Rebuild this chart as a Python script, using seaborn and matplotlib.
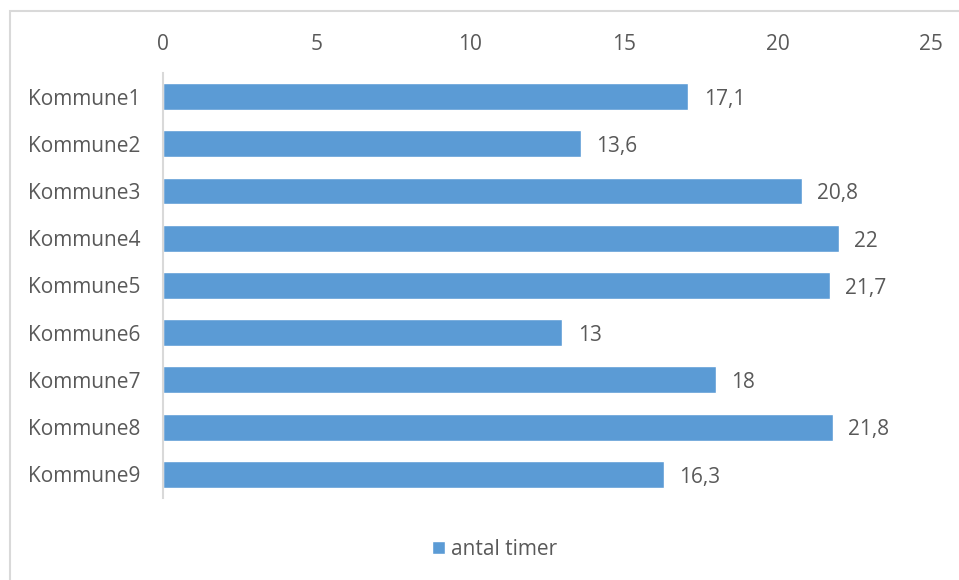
import matplotlib
matplotlib.use("Agg")
import matplotlib.pyplot as plt
import matplotlib.patches as mpatches
import seaborn as sns
import pandas as pd

categories = ["Kommune1", "Kommune2", "Kommune3", "Kommune4", "Kommune5",
              "Kommune6", "Kommune7", "Kommune8", "Kommune9"]
hours = [17.1, 13.6, 20.8, 22, 21.7, 13, 18, 21.8, 16.3]
series_name = "antal timer"
x_ticks = [0, 5, 10, 15, 20, 25]

BAR = "#5B9BD5"
TEXT = "#595959"
LINE = "#D9D9D9"
FS = 15

sns.set_theme(style="white")
plt.rcParams["font.family"] = ["Open Sans", "DejaVu Sans"]

df = pd.DataFrame({"kommune": categories, "timer": hours})

fig = plt.figure(figsize=(9.59, 5.8), dpi=100)
ax = fig.add_axes([0.170, 0.1414, 0.8008, 0.7328])

sns.barplot(data=df, y="kommune", x="timer", orient="h", color=BAR,
            width=0.57, label=series_name, ax=ax, saturation=1)

ax.set_xlim(0, 25)
ax.set_ylim(len(categories) - 0.5, -0.5)
ax.set_xticks(x_ticks)
ax.xaxis.tick_top()
ax.tick_params(axis="both", length=0, labelsize=FS, colors=TEXT)
ax.tick_params(axis="x", pad=13)
ax.tick_params(axis="y", pad=16)
ax.set_xlabel("")
ax.set_ylabel("")
ax.grid(False)
for side in ["top", "right", "bottom"]:
    ax.spines[side].set_visible(False)
ax.spines["left"].set_color(LINE)
ax.spines["left"].set_linewidth(1.5)

labels = [f"{v:g}".replace(".", ",") for v in hours]
value_texts = ax.bar_label(ax.containers[0], labels=labels, padding=11,
                           fontsize=FS, color=TEXT)
for t in value_texts:
    t.xyann = (11, -2)

leg = ax.legend(loc="center", bbox_to_anchor=(0.516, 0.0534),
                bbox_transform=fig.transFigure, frameon=False,
                handlelength=0.6, handleheight=0.6, handletextpad=0.3,
                fontsize=FS)
for t in leg.get_texts():
    t.set_color(TEXT)

# outer chart frame
frame = mpatches.Rectangle((10 / 959, -0.2), 1.2, 1.2 - 11 / 580,
                           transform=fig.transFigure, fill=False,
                           edgecolor=LINE, linewidth=1.5, clip_on=False)
fig.patches.append(frame)

fig.savefig("out.png", dpi=100, facecolor="white")
